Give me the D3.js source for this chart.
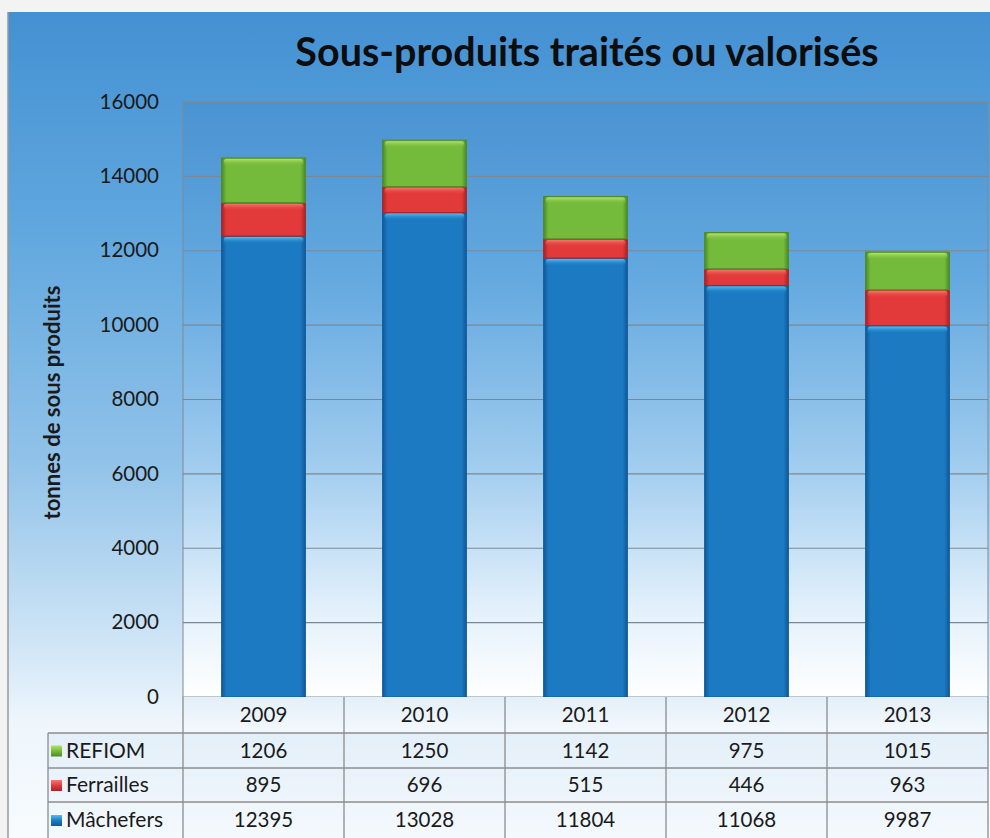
<!DOCTYPE html>
<html>
<head>
<meta charset="utf-8">
<script src="https://cdn.jsdelivr.net/npm/d3@7"></script>
<style>
body { margin: 0; background: #f3f3f3; }
svg { display: block; }
text { font-family: Lato, "Open Sans", sans-serif; fill: #1a1a1a; }
</style>
</head>
<body>
<svg id="chart"></svg>
<script>
var width = 990;
var height = 838;

var title = "Sous-produits traités ou valorisés";
var yTitle = "tonnes de sous produits";
var years = ["2009", "2010", "2011", "2012", "2013"];
var seriesNames = ["REFIOM", "Ferrailles", "Mâchefers"];
var refiom = [1206, 1250, 1142, 975, 1015];
var ferrailles = [895, 696, 515, 446, 963];
var machefers = [12395, 13028, 11804, 11068, 9987];
var yTicks = [0, 2000, 4000, 6000, 8000, 10000, 12000, 14000, 16000];

var colors = {
    "REFIOM": {base: "#74bb3c", light: "#b6e06a", dark: "#4d8a25"},
    "Ferrailles": {base: "#e23a3a", light: "#f47a6c", dark: "#a82424"},
    "Mâchefers": {base: "#1c7ac3", light: "#4fc0f0", dark: "#105a98"}
};

var plot = {left: 183, right: 988, top: 102, bottom: 697};
var rowH = [36, 35, 34, 36];
var legendLeft = 48;

var svg = d3.select("#chart")
    .attr("width", width)
    .attr("height", height);
var defs = svg.append("defs");

function linGrad(id, x2, y2, stops) {
    var g = defs.append("linearGradient")
        .attr("id", id)
        .attr("x1", 0).attr("y1", 0)
        .attr("x2", x2).attr("y2", y2);
    stops.forEach(function (s) {
        g.append("stop").attr("offset", s[0]).attr("stop-color", s[1]).attr("stop-opacity", s[2] === undefined ? 1 : s[2]);
    });
}

// scale a text's font size so it spans the wanted length
function fitText(sel, size, target) {
    sel.style("font-size", size + "px");
    var w = sel.node().getComputedTextLength();
    sel.style("font-size", (size * target / w).toFixed(1) + "px");
}

linGrad("bg", 0, 1, [[0, "#4490d2"], [0.25, "#5ea6de"], [0.55, "#92c3e9"], [0.78, "#d4e8f7"], [0.86, "#eef6fc"], [1, "#f7fbfe"]]);
linGrad("plotbg", 0, 1, [[0, "#4a93d2"], [0.3, "#64a9df"], [0.6, "#9ecbee"], [0.85, "#e2f0fb"], [1, "#ffffff"]]);
linGrad("tablebg", 0, 1, [[0, "#e3eff9"], [1, "#f4f9fd"]]);
Object.keys(colors).forEach(function (k, i) {
    var c = colors[k];
    linGrad("bar" + i, 1, 0, [[0, c.dark], [0.06, c.base], [0.94, c.base], [1, c.dark]]);
    linGrad("hl" + i, 0, 1, [[0, c.light], [1, c.base, 0]]);
    linGrad("key" + i, 0, 1, [[0, c.light], [0.5, c.base], [1, c.dark]]);
});

// page and panel
svg.append("rect").attr("width", width).attr("height", height).attr("fill", "#f3f3f3");
svg.append("rect")
    .attr("x", 8).attr("y", 12)
    .attr("width", width - 8).attr("height", height - 12)
    .attr("fill", "url(#bg)");
svg.append("line")
    .attr("x1", 8).attr("x2", 8).attr("y1", 12).attr("y2", height)
    .attr("stroke", "#9a9a9a").attr("stroke-width", 1.5);

// title
var titleText = svg.append("text")
    .attr("x", 587).attr("y", 66)
    .attr("text-anchor", "middle")
    .style("font-weight", "bold")
    .style("fill", "#0d0d0d")
    .text(title);
fitText(titleText, 34, 583);

// scales
var x = d3.scaleBand()
    .domain(years)
    .range([plot.left, plot.right])
    .paddingInner(0.48)
    .paddingOuter(0.24);
var y = d3.scaleLinear()
    .domain([0, 16000])
    .range([plot.bottom, plot.top]);

// plot area
svg.append("rect")
    .attr("x", plot.left).attr("y", plot.top)
    .attr("width", plot.right - plot.left).attr("height", plot.bottom - plot.top)
    .attr("fill", "url(#plotbg)")
    .attr("stroke", "#7d8a96").attr("stroke-width", 1);

svg.append("g")
    .selectAll("line")
    .data(yTicks.filter(function (d) { return d > 0; }))
    .enter().append("line")
    .attr("x1", plot.left).attr("x2", plot.right)
    .attr("y1", function (d) { return y(d); })
    .attr("y2", function (d) { return y(d); })
    .attr("stroke", "#7b8894").attr("stroke-width", 1.2);

var yAxis = svg.append("g")
    .attr("transform", "translate(" + (plot.left - 24) + ",0)")
    .call(d3.axisLeft(y).tickValues(yTicks).tickSize(0).tickPadding(0).tickFormat(d3.format("d")));
yAxis.select(".domain").remove();
yAxis.selectAll("text")
    .style("font-family", "Lato, sans-serif")
    .style("font-size", "20.5px")
    .style("fill", "#1a1a1a")
    .attr("dy", "0.3em");

var yTitleText = svg.append("text")
    .attr("transform", "translate(60," + ((plot.top + plot.bottom) / 2 + 3) + ") rotate(-90)")
    .attr("text-anchor", "middle")
    .style("font-weight", "bold")
    .text(yTitle);
fitText(yTitleText, 16, 234);

// stacked bars
var rows = years.map(function (yr, i) {
    return {year: yr, "Mâchefers": machefers[i], "Ferrailles": ferrailles[i], "REFIOM": refiom[i]};
});
var stack = d3.stack().keys(["Mâchefers", "Ferrailles", "REFIOM"])(rows);

var layers = svg.append("g").selectAll("g")
    .data(stack)
    .enter().append("g");

layers.each(function (layer) {
    var idx = seriesNames.indexOf(layer.key);
    var g = d3.select(this);
    var segs = g.selectAll("g").data(layer).enter().append("g");
    segs.append("rect")
        .attr("x", function (d) { return x(d.data.year); })
        .attr("y", function (d) { return y(d[1]); })
        .attr("width", x.bandwidth())
        .attr("height", function (d) { return y(d[0]) - y(d[1]); })
        .attr("fill", "url(#bar" + idx + ")")
        .attr("stroke", colors[layer.key].dark)
        .attr("stroke-width", 1);
    segs.append("rect")
        .attr("x", function (d) { return x(d.data.year) + 2; })
        .attr("y", function (d) { return y(d[1]) + 1; })
        .attr("width", x.bandwidth() - 4)
        .attr("height", 7)
        .attr("rx", 3)
        .attr("fill", "url(#hl" + idx + ")");
});

// data table
var tableTop = plot.bottom;
var rowY = [tableTop];
rowH.forEach(function (h) { rowY.push(rowY[rowY.length - 1] + h); });

svg.append("rect")
    .attr("x", plot.left).attr("y", rowY[0])
    .attr("width", plot.right - plot.left).attr("height", rowH[0])
    .attr("fill", "url(#tablebg)");
svg.append("rect")
    .attr("x", legendLeft).attr("y", rowY[1])
    .attr("width", plot.right - legendLeft).attr("height", height - rowY[1])
    .attr("fill", "url(#tablebg)");

var step = x.step();
var colEdges = years.map(function (yr) { return x(yr) - x.paddingOuter() * step; });
colEdges.push(plot.right);

var grid = svg.append("g").attr("stroke", "#8c8c8c").attr("stroke-width", 1.3);
grid.selectAll(".v")
    .data(colEdges)
    .enter().append("line")
    .attr("x1", function (d) { return d; }).attr("x2", function (d) { return d; })
    .attr("y1", rowY[0]).attr("y2", height);
grid.append("line")
    .attr("x1", legendLeft).attr("x2", legendLeft)
    .attr("y1", rowY[1]).attr("y2", height);
grid.selectAll(".h")
    .data(rowY.slice(1, 4))
    .enter().append("line")
    .attr("x1", legendLeft).attr("x2", plot.right)
    .attr("y1", function (d) { return d; }).attr("y2", function (d) { return d; });

svg.append("g").selectAll("text")
    .data(years)
    .enter().append("text")
    .attr("x", function (d) { return x(d) + x.bandwidth() / 2; })
    .attr("y", rowY[0] + rowH[0] / 2 + 7)
    .attr("text-anchor", "middle")
    .style("font-size", "20.5px")
    .text(function (d) { return d; });

var tableSeries = [refiom, ferrailles, machefers];
tableSeries.forEach(function (vals, r) {
    var cy = rowY[r + 1] + rowH[r + 1] / 2;
    svg.append("rect")
        .attr("x", legendLeft + 3).attr("y", cy - 5)
        .attr("width", 11).attr("height", 11)
        .attr("fill", "url(#key" + r + ")");
    svg.append("text")
        .attr("x", legendLeft + 18).attr("y", cy + 7)
        .style("font-size", "21px")
        .text(seriesNames[r]);
    svg.append("g").selectAll("text")
        .data(vals)
        .enter().append("text")
        .attr("x", function (d, i) { return x(years[i]) + x.bandwidth() / 2; })
        .attr("y", cy + 7)
        .attr("text-anchor", "middle")
        .style("font-size", "20.5px")
        .text(function (d) { return d; });
});
</script>
</body>
</html>
